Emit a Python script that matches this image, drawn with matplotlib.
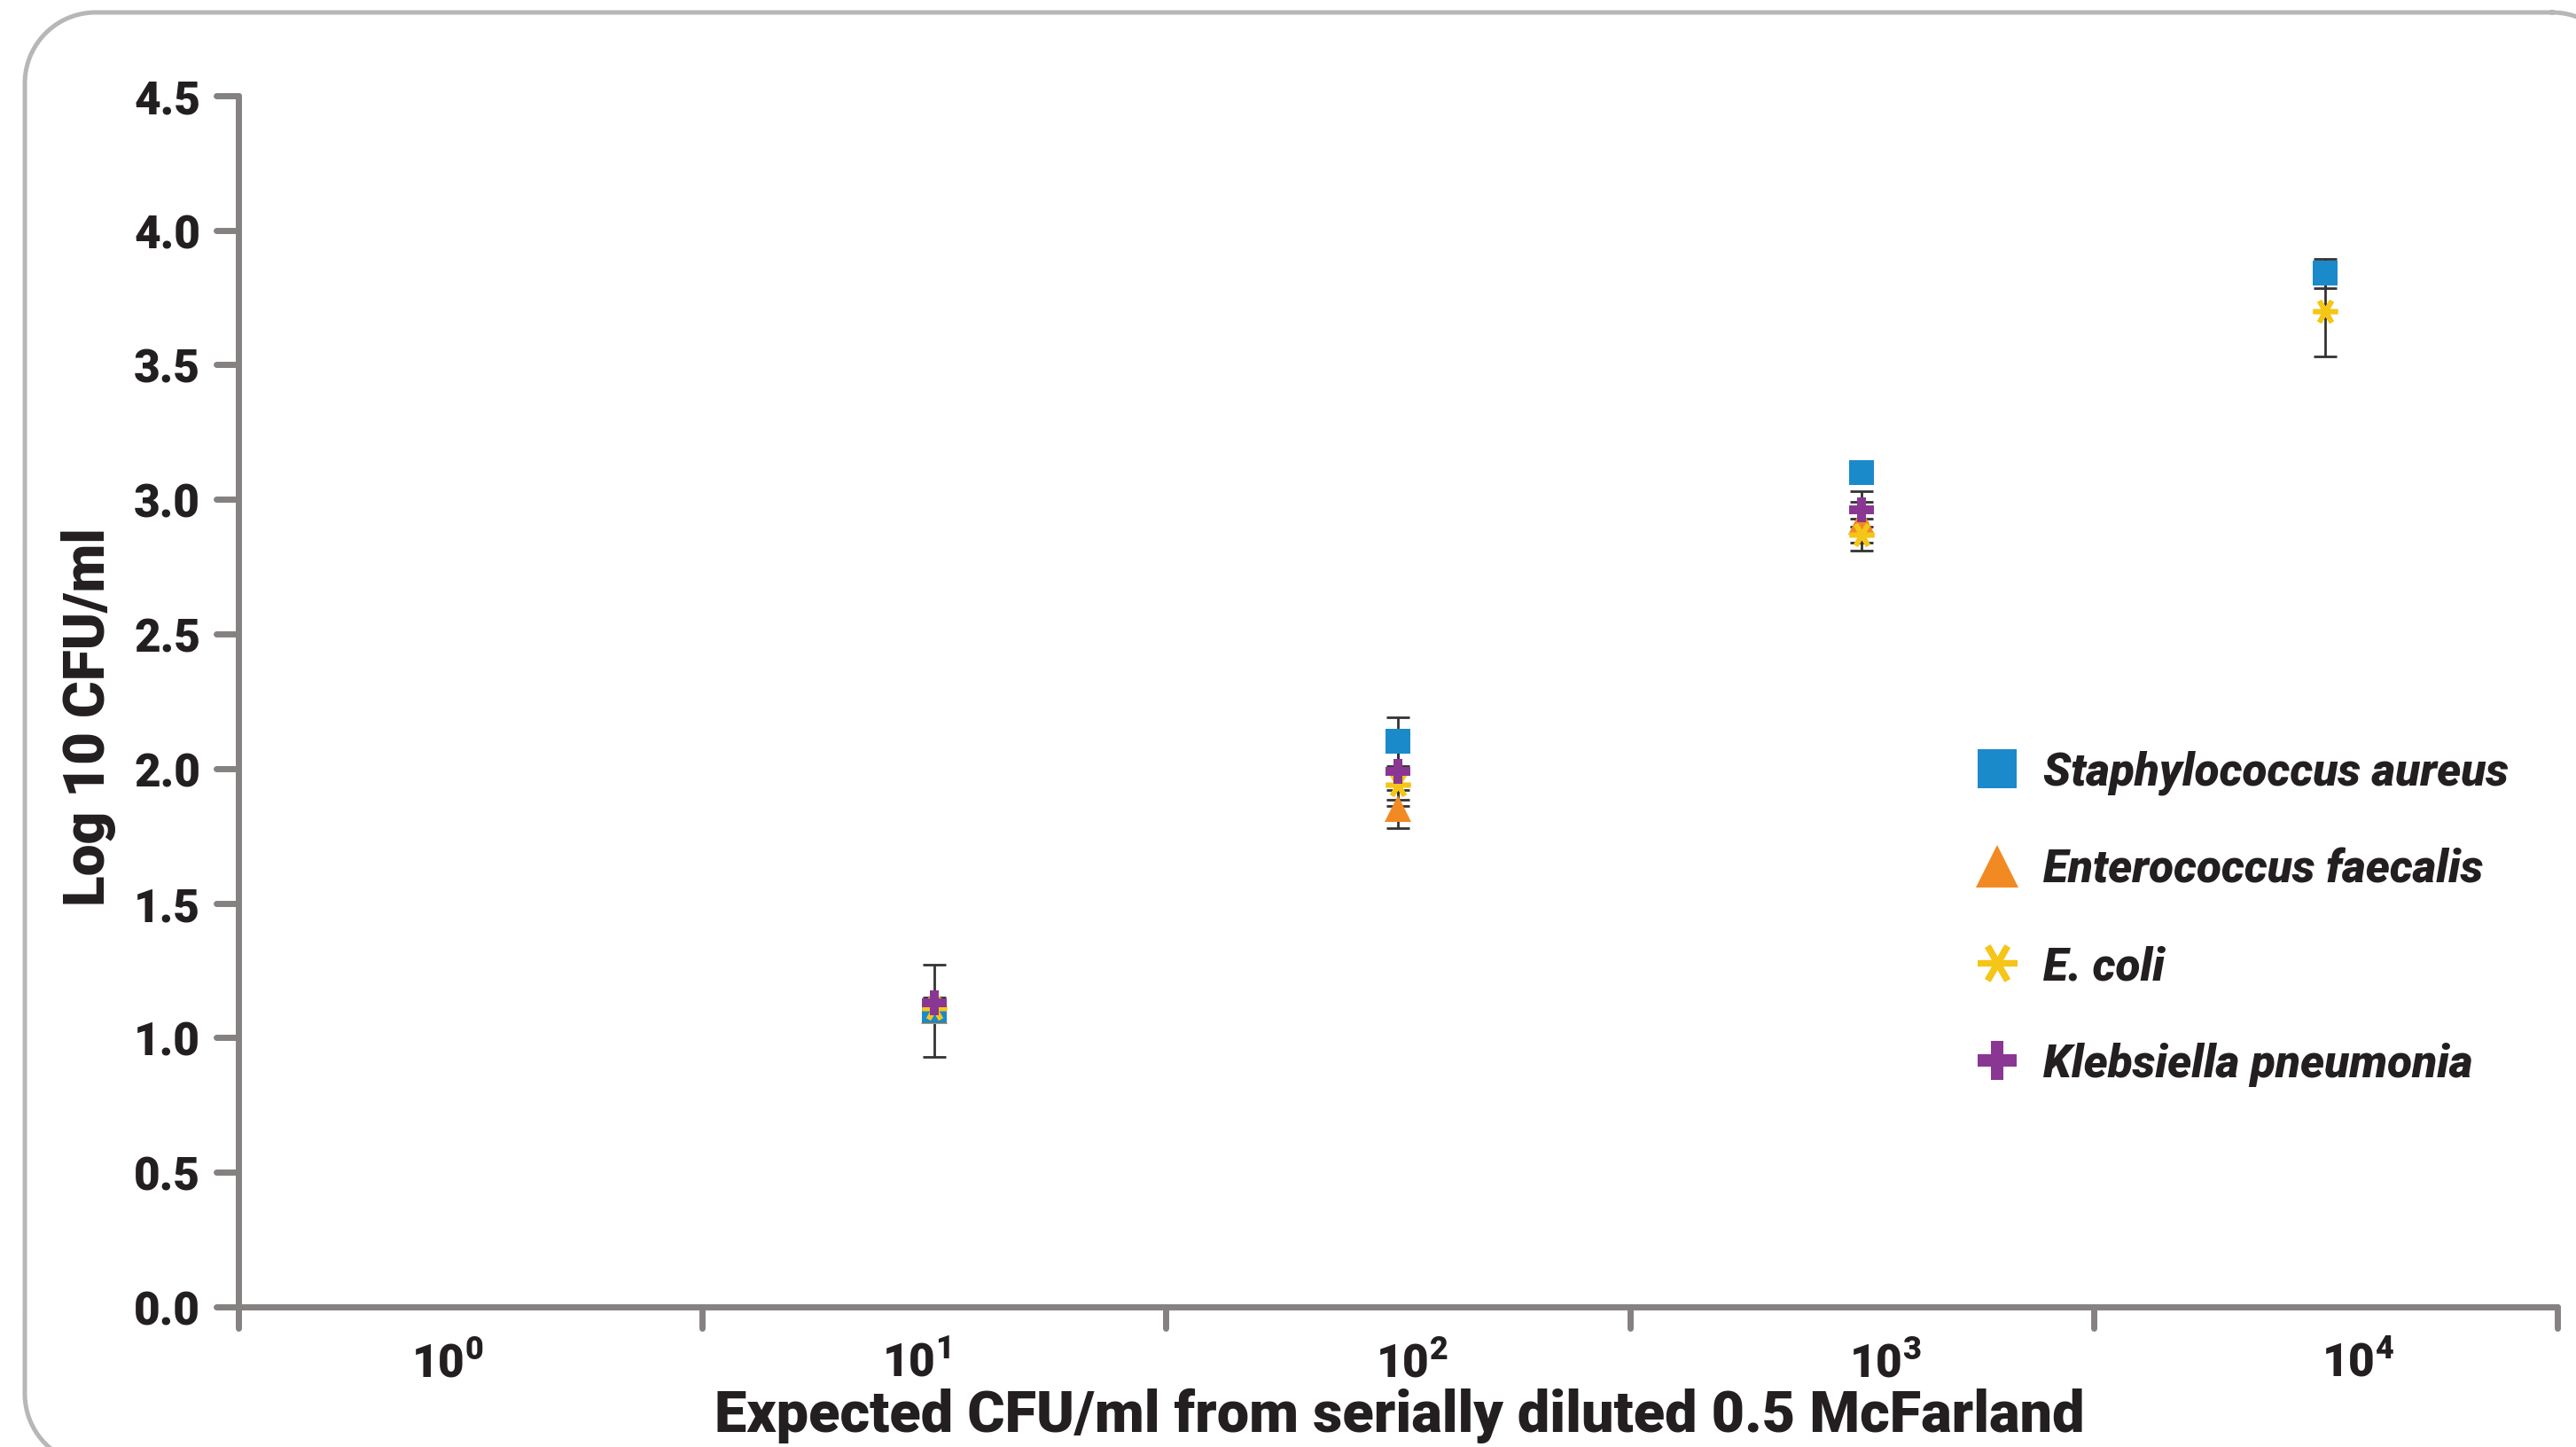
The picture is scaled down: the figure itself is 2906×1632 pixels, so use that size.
import numpy as np
import matplotlib
matplotlib.use("Agg")
import matplotlib.pyplot as plt
from matplotlib.lines import Line2D

# Expected CFU/ml categories (index 0 has no measurements)
dilutions = ["10$^{0}$", "10$^{1}$", "10$^{2}$", "10$^{3}$", "10$^{4}$"]
dilution_idx = [1, 2, 3, 4]

# Log10 CFU/ml means and error bars
s_aureus = [1.10, 2.10, 3.10, 3.84]
s_aureus_err = [0.17, 0.09, 0.02, 0.055]
e_faecalis = [1.10, 1.85, 2.92, np.nan]
e_faecalis_err = [0.03, 0.07, 0.11, np.nan]
e_coli = [1.11, 1.94, 2.87, 3.70]
e_coli_err = [0.02, 0.055, 0.03, 0.17]
k_pneumonia = [1.13, 1.99, 2.96, np.nan]
k_pneumonia_err = [0.02, 0.13, 0.03, np.nan]

y_ticks = [0.0, 0.5, 1.0, 1.5, 2.0, 2.5, 3.0, 3.5, 4.0, 4.5]

plt.rcParams["font.family"] = ["Roboto", "DejaVu Sans"]
plt.rcParams["mathtext.default"] = "regular"

GRAY = "#858181"
ERR = "#333333"
TXT = "#231f20"

series = [
    ("Enterococcus faecalis", e_faecalis, e_faecalis_err,
     dict(marker="^", color="#F28A24", ms=11, mew=0), 3),
    ("Staphylococcus aureus", s_aureus, s_aureus_err,
     dict(marker="s", color="#1B8ACB", ms=10, mew=0), 4),
    ("E. coli", e_coli, e_coli_err,
     dict(marker=(6, 2, 90), color="#F5C518", ms=10, mew=2.0), 5),
    ("Klebsiella pneumonia", k_pneumonia, k_pneumonia_err,
     dict(marker="P", color="#8A3793", ms=10, mew=0), 6),
]

fig = plt.figure(figsize=(14.53, 8.165), dpi=200)

# rounded outer frame, drawn in pixel units
bg = fig.add_axes([0, 0, 1, 1], zorder=-1)
bg.set_xlim(0, 2906)
bg.set_ylim(1633, 0)
bg.axis("off")
x0, y0, x1, y1, r = 28, 15, 2959, 1653, 80
corners = [(x1 - r, y0 + r, -90, 0), (x1 - r, y1 - r, 0, 90),
           (x0 + r, y1 - r, 90, 180), (x0 + r, y0 + r, 180, 270)]
px, py = [], []
for cx, cy, a0, a1 in corners:
    t = np.radians(np.linspace(a0, a1, 40))
    px.extend(cx + r * np.cos(t))
    py.extend(cy + r * np.sin(t))
px.append(px[0])
py.append(py[0])
bg.plot(px, py, color="#b7b7b7", lw=1.8, clip_on=False)

ax = fig.add_axes([0.0926, 0.0968, 0.9002, 0.8365])
ax.set_facecolor("none")

# error bars first, below the markers
for name, vals, errs, style, z in series:
    ax.errorbar(dilution_idx, vals, yerr=errs, fmt="none", ecolor=ERR,
                elinewidth=1.0, capsize=4.7, capthick=1.0, zorder=2)

handles = {}
for name, vals, errs, style, z in series:
    ax.plot(dilution_idx, vals, ls="none", zorder=z,
            markeredgecolor=style["color"], markerfacecolor=style["color"],
            marker=style["marker"], ms=style["ms"], mew=style["mew"])
    handles[name] = style

ax.set_xlim(-0.5, 4.5)
ax.set_ylim(0, 4.5)

for side in ["top", "right"]:
    ax.spines[side].set_visible(False)
for side in ["left", "bottom"]:
    ax.spines[side].set_color(GRAY)
    ax.spines[side].set_linewidth(2.5)
    ax.spines[side].set_capstyle("round")

ax.set_yticks(y_ticks)
ax.set_yticklabels([f"{v:.1f}" for v in y_ticks])
# the category labels sit a little off the category centres in the original
ax.set_xticks([-0.05, 0.96, 2.03, 3.05, 4.07])
ax.set_xticklabels(dilutions)
ax.tick_params(axis="y", length=0, pad=15.5, labelsize=18.5, labelcolor=TXT)
ax.tick_params(axis="x", length=0, pad=14, labelsize=18.5, labelcolor=TXT)
for lab in ax.get_xticklabels() + ax.get_yticklabels():
    lab.set_fontweight("black")

# custom ticks with rounded ends
for y in y_ticks:
    ax.plot([-0.0096, 0], [y, y], transform=ax.get_yaxis_transform(),
            color=GRAY, lw=2.5, solid_capstyle="round", clip_on=False)
for b in np.arange(-0.5, 4.6, 1.0):
    ax.plot([b, b], [-0.0176, 0], transform=ax.get_xaxis_transform(),
            color=GRAY, lw=2.5, solid_capstyle="round", clip_on=False)

fig.text(0.5434, 0.011, "Expected CFU/ml from serially diluted 0.5 McFarland",
         ha="center", va="baseline", fontsize=23.3, fontweight="black", color=TXT)
fig.text(0.0345, 0.505, "Log 10 CFU/ml", rotation=90, ha="center", va="center",
         fontsize=23, fontweight="black", color=TXT)

# legend
order = ["Staphylococcus aureus", "Enterococcus faecalis", "E. coli", "Klebsiella pneumonia"]
leg_handles = []
for name in order:
    st = handles[name]
    leg_handles.append(Line2D([], [], ls="none", marker=st["marker"],
                              color=st["color"], ms=st["ms"] * 1.6,
                              mew=st["mew"] * 1.3))
leg = ax.legend(leg_handles, order, loc="upper left",
                bbox_to_anchor=(0.7665, 0.4815), bbox_transform=fig.transFigure,
                frameon=False, borderpad=0, borderaxespad=0, handlelength=1.0,
                handletextpad=0.5, labelspacing=1.16,
                prop=dict(family=["Roboto", "DejaVu Sans"], weight="heavy",
                          style="italic", size=18.5))
for t in leg.get_texts():
    t.set_color(TXT)

fig.savefig("out.png", dpi=200)
